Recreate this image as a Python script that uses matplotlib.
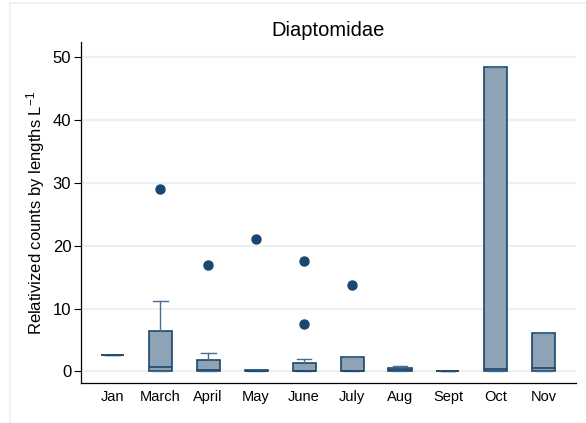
import matplotlib
matplotlib.use("Agg")
import matplotlib.pyplot as plt
from matplotlib.lines import Line2D

plt.rcParams['font.family'] = ['Liberation Sans', 'DejaVu Sans']
plt.rcParams['mathtext.fontset'] = 'custom'
plt.rcParams['mathtext.rm'] = 'Liberation Sans'
plt.rcParams['mathtext.it'] = 'Liberation Sans'

# box statistics
months = ['Jan', 'March', 'April', 'May', 'June', 'July', 'Aug', 'Sept', 'Oct', 'Nov']
q1 = [2.6, 0.1, 0.15, 0.0, 0.0, 0.0, 0.0, 0.0, 0.0, 0.0]
med = [2.6, 0.75, 0.3, 0.1, 0.1, 0.05, 0.2, 0.05, 0.45, 0.6]
q3 = [2.6, 6.5, 1.8, 0.25, 1.35, 2.25, 0.55, 0.12, 48.5, 6.1]
whislo = [2.6, 0.0, 0.0, 0.0, 0.0, 0.0, 0.0, 0.0, 0.0, 0.0]
whishi = [2.6, 11.25, 3.0, 0.25, 2.0, 2.25, 0.95, 0.12, 48.5, 6.1]
outliers = [[], [29.0], [17.0], [21.0], [17.6, 7.6], [13.7], [], [], [], []]

navy = '#1a476f'
fill = '#8fa3b7'
grid = '#eaf1f3'

stats = []
for i, m in enumerate(months):
    stats.append({'label': m, 'q1': q1[i], 'med': med[i], 'q3': q3[i],
                  'whislo': whislo[i], 'whishi': whishi[i], 'fliers': outliers[i]})

fig = plt.figure(figsize=(5.86, 4.23), dpi=100)
ax = fig.add_axes([0.1382, 0.0946, 0.8448, 0.8061])

ax.bxp(stats, positions=range(1, len(months) + 1), widths=0.48, patch_artist=True,
       boxprops=dict(facecolor=fill, edgecolor=navy, linewidth=1.2),
       medianprops=dict(color=navy, linewidth=1.2),
       whiskerprops=dict(color='#4a6d8f', linewidth=1.0),
       capprops=dict(color='#4a6d8f', linewidth=1.0),
       capwidths=0.31,
       flierprops=dict(marker='o', markerfacecolor=navy, markeredgecolor=navy, markersize=6.5))

ax.set_xlim(0.35, 10.67)
ax.set_ylim(-1.83, 52.4)
ax.set_yticks([0, 10, 20, 30, 40, 50])
ax.yaxis.grid(True, color=grid, linewidth=1.5)
ax.set_axisbelow(True)
ax.tick_params(axis='y', labelsize=12, length=5, width=0.8, pad=2)
ax.tick_params(axis='x', labelsize=10.5, length=0, pad=5)
for s in ['top', 'right']:
    ax.spines[s].set_visible(False)
for s in ['left', 'bottom']:
    ax.spines[s].set_linewidth(0.9)

ax.set_ylabel('Relativized counts by lengths L$^{-1}$', fontsize=12, labelpad=4)
ax.set_title('Diaptomidae', fontsize=14.5, pad=4)

# faint outer frame of the original graph region
fig.add_artist(Line2D([0.017, 0.017], [0, 0.993], color=grid, lw=1.2))
fig.add_artist(Line2D([0.017, 1], [0.993, 0.993], color=grid, lw=1.2))

fig.savefig('out.png', dpi=100)
